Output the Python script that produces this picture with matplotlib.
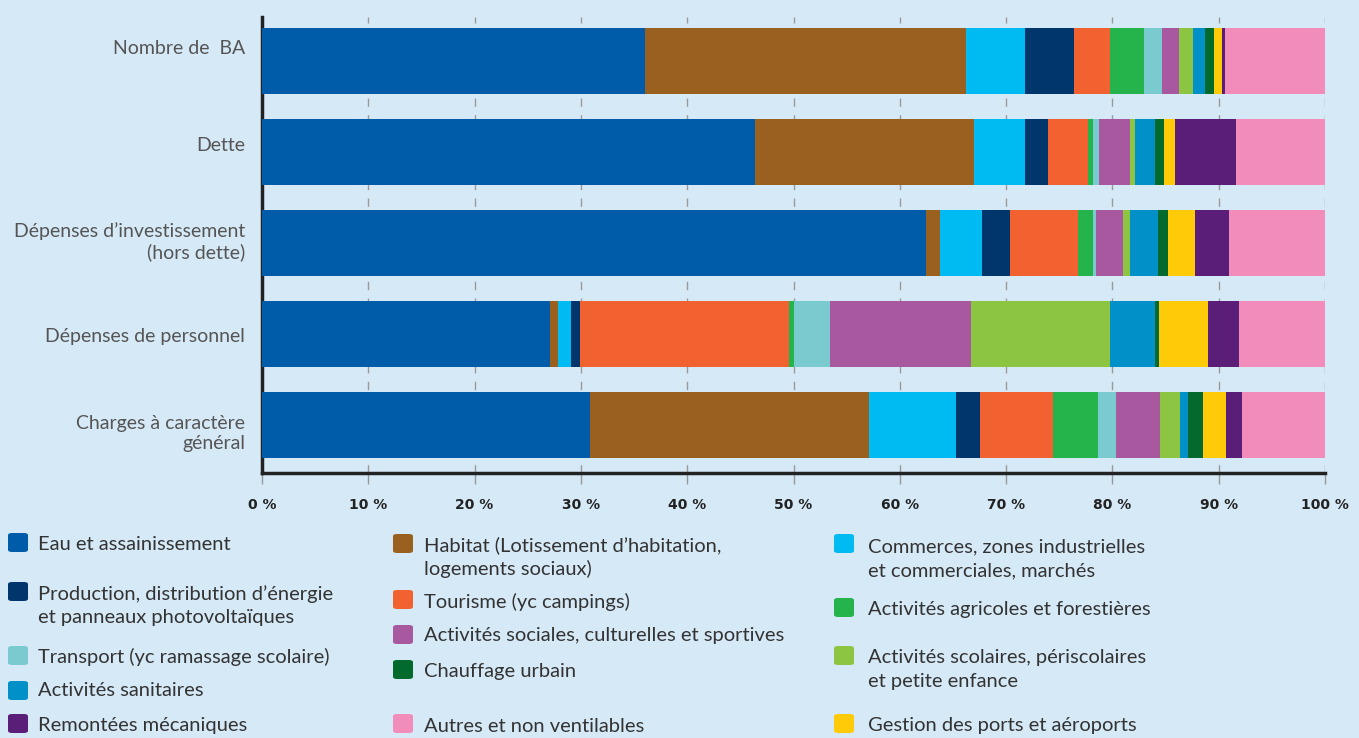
import matplotlib
matplotlib.use("Agg")
import matplotlib.pyplot as plt
from matplotlib.patches import FancyBboxPatch
from matplotlib.transforms import ScaledTranslation
import numpy as np

categories = ["Nombre de  BA", "Dette", "Dépenses d’investissement\n(hors dette)",
              "Dépenses de personnel", "Charges à caractère\ngénéral"]

sectors = ["Eau et assainissement",
           "Habitat (Lotissement d’habitation,\nlogements sociaux)",
           "Commerces, zones industrielles\net commerciales, marchés",
           "Production, distribution d’énergie\net panneaux photovoltaïques",
           "Tourisme (yc campings)",
           "Activités agricoles et forestières",
           "Transport (yc ramassage scolaire)",
           "Activités sociales, culturelles et sportives",
           "Activités scolaires, périscolaires\net petite enfance",
           "Activités sanitaires",
           "Chauffage urbain",
           "Gestion des ports et aéroports",
           "Remontées mécaniques",
           "Autres et non ventilables"]

colors = ["#005BA8", "#9A6020", "#00BAF2", "#00366C", "#F26230", "#25B34B",
          "#79CBD0", "#A8589F", "#8CC541", "#0191C8", "#016A2C", "#FFCB08",
          "#5B1E78", "#F28CBB"]

# values per sector (%), one value per category in the order of `categories`
eau        = [36.0, 46.4, 62.5, 27.1, 30.9]
habitat    = [30.2, 20.6, 1.3, 0.7, 26.2]
commerces  = [5.6, 4.8, 3.9, 1.3, 8.2]
production = [4.6, 2.1, 2.7, 0.8, 2.2]
tourisme   = [3.4, 3.8, 6.4, 19.7, 6.9]
agricoles  = [3.2, 0.5, 1.4, 0.4, 4.2]
transport  = [1.7, 0.5, 0.3, 3.4, 1.7]
sociales   = [1.6, 3.0, 2.5, 13.3, 4.2]
scolaires  = [1.3, 0.4, 0.7, 13.1, 1.9]
sanitaires = [1.1, 1.9, 2.6, 4.2, 0.7]
chauffage  = [0.9, 0.9, 0.9, 0.4, 1.4]
ports      = [0.7, 1.0, 2.6, 4.6, 2.2]
remontees  = [0.3, 5.7, 3.2, 2.9, 1.5]
autres     = [9.4, 8.4, 9.0, 8.1, 7.8]

series = [eau, habitat, commerces, production, tourisme, agricoles, transport,
          sociales, scolaires, sanitaires, chauffage, ports, remontees, autres]

xticks = [0, 10, 20, 30, 40, 50, 60, 70, 80, 90, 100]
xticklabels = ["0 %", "10 %", "20 %", "30 %", "40 %", "50 %", "60 %", "70 %",
               "80 %", "90 %", "100 %"]

BG = "#D6E9F7"
TXT = "#333333"
W, H = 1359, 738
fig = plt.figure(figsize=(W / 100, H / 100), dpi=100, facecolor=BG)
ax = fig.add_axes([262 / W, 1 - 473 / H, (1325 - 262) / W, (473 - 17) / H])
ax.set_facecolor(BG)

font = dict(family=["Lato", "DejaVu Sans"], fontweight="normal")

y = np.arange(len(categories))
left = np.zeros(len(categories))
for vals, col, name in zip(series, colors, sectors):
    ax.barh(y, vals, left=left, height=0.725, color=col, label=name, zorder=3)
    left += np.array(vals)

ax.set_xlim(0, 100)
ax.set_ylim(4 + 48 / 91, -44 / 91)
ax.set_yticks(y)
ax.set_yticklabels(categories, fontsize=14, color="#555555", **font)
ax.tick_params(axis="y", length=0, pad=12)
# category labels sit slightly off the bar centres in the reference
label_shift_px = [-14, -8, -4.5, 1, 6]
for lab, d in zip(ax.get_yticklabels(), label_shift_px):
    lab.set_transform(lab.get_transform() +
                      ScaledTranslation(0, -d / 100, fig.dpi_scale_trans))
ax.set_xticks(xticks)
ax.set_xticklabels(xticklabels, fontsize=10, fontweight="bold", color="#222222",
                   family="DejaVu Sans")
ax.tick_params(axis="x", direction="out", length=8, width=1, color="#999999", pad=10)
for x in xticks[1:]:
    ax.axvline(x, color="#9a9a9a", lw=1, ls=(0, (6, 6)), zorder=1)

for s in ["top", "right"]:
    ax.spines[s].set_visible(False)
for s in ["left", "bottom"]:
    ax.spines[s].set_color("#222222")
    ax.spines[s].set_linewidth(2.5)

# Legend laid out manually, as in the reference
legend_layout = [
    # (sector index, square x, square top y, text x, first-line center y)
    (0, 8, 533, 38, 545),
    (3, 8, 582, 38, 594),
    (6, 8, 646, 38, 657),
    (9, 8, 681, 38, 691),
    (12, 8, 714, 38, 726),
    (1, 393, 534, 424, 545),
    (4, 393, 590, 424, 602),
    (7, 393, 625, 424, 636),
    (10, 393, 660, 424, 672),
    (13, 393, 714, 424, 726),
    (2, 834, 534, 868, 547),
    (5, 834, 598, 868, 609),
    (8, 834, 646, 868, 657),
    (11, 834, 714, 868, 726),
]
for idx, sx, sy, tx, ty in legend_layout:
    sq = FancyBboxPatch((sx / W, 1 - (sy + 19) / H), 20 / W, 19 / H,
                        boxstyle="round,pad=0,rounding_size=0.003",
                        transform=fig.transFigure, facecolor=colors[idx],
                        edgecolor="none")
    fig.add_artist(sq)
    lines = sectors[idx].split("\n")
    for k, line in enumerate(lines):
        fig.text(tx / W, 1 - (ty + 24 * k) / H, line, fontsize=14.5, color=TXT,
                 ha="left", va="center", **font)

fig.savefig("out.png", dpi=100, facecolor=BG)
